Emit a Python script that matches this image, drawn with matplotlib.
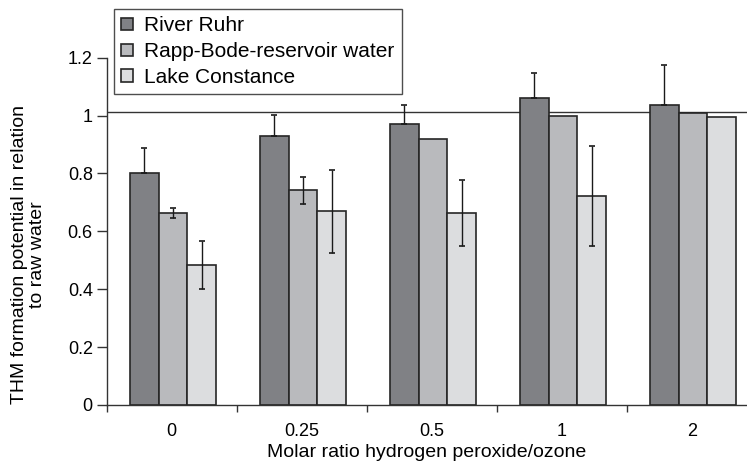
import numpy as np
import matplotlib.pyplot as plt

plt.rcParams['font.family'] = ['Liberation Sans', 'DejaVu Sans']

# data
ratios = ['0', '0.25', '0.5', '1', '2']
ruhr = [0.803, 0.928, 0.972, 1.062, 1.035]
ruhr_err = [0.085, 0.075, 0.065, 0.085, 0.14]
rapp = [0.664, 0.742, 0.92, 0.997, 1.008]
rapp_err = [0.017, 0.047, 0.0, 0.0, 0.0]
lake = [0.485, 0.669, 0.664, 0.722, 0.995]
lake_err = [0.083, 0.144, 0.115, 0.172, 0.0]
ref_line = 1.013

names = ['River Ruhr', 'Rapp-Bode-reservoir water', 'Lake Constance']
colors = ['#808185', '#b9babd', '#dcdddf']

fig = plt.figure(figsize=(7.47, 4.70), dpi=100)
ax = fig.add_axes([0.1428, 0.1383, 0.8572, 0.7389])

x = np.arange(len(ratios))
w = 0.22
series = [ruhr, rapp, lake]
errs = [
    [np.zeros(len(ruhr)), ruhr_err],   # only upper error shown for Ruhr
    [rapp_err, rapp_err],
    [lake_err, lake_err],
]
for i in range(3):
    pos = x + (i - 1) * w + 0.01
    ax.bar(pos, series[i], w, color=colors[i], edgecolor='#262626',
           linewidth=1.2, label=names[i], zorder=2)
    e = np.array(errs[i])
    mask = (e[0] > 0) | (e[1] > 0)
    ax.errorbar(pos[mask], np.array(series[i])[mask], yerr=e[:, mask],
                fmt='none', ecolor='#1a1a1a', elinewidth=1.0,
                capsize=2.5, capthick=1.2, zorder=3)

ax.axhline(ref_line, color='#333333', linewidth=1.0, zorder=1)

ax.set_xlim(-0.5, 4.425)
ax.set_ylim(0, 1.2)
ax.set_yticks([0, 0.2, 0.4, 0.6, 0.8, 1.0, 1.2])
ax.set_yticklabels(['0', '0.2', '0.4', '0.6', '0.8', '1', '1.2'])
ax.set_xticks(x)
ax.set_xticklabels(ratios)
ax.set_xticks(np.arange(len(ratios)) - 0.5, minor=True)
ax.tick_params(axis='x', which='major', length=0, pad=13, labelsize=13)
ax.tick_params(axis='x', which='minor', length=5, width=1.0, direction='out', color='#333333')
ax.tick_params(axis='y', length=7, width=1.0, direction='out', labelsize=13,
               pad=3, color='#333333')

for s in ['top', 'right']:
    ax.spines[s].set_visible(False)
for s in ['left', 'bottom']:
    ax.spines[s].set_linewidth(1.0)
    ax.spines[s].set_color('#333333')

ax.set_xlabel('Molar ratio hydrogen peroxide/ozone', fontsize=14, labelpad=3)
ax.set_ylabel('THM formation potential in relation\nto raw water', fontsize=14,
              linespacing=1.05)
ax.yaxis.set_label_coords(-0.095, 0.432)

leg = ax.legend(loc='upper left', bbox_to_anchor=(114 / 747, 1 - 9 / 470),
                bbox_transform=fig.transFigure, fontsize=15, frameon=True,
                fancybox=False, edgecolor='#222222', handlelength=0.55,
                handleheight=0.55, handletextpad=0.55, borderpad=0.35,
                labelspacing=0.33, borderaxespad=0)
leg.get_frame().set_linewidth(1.0)
leg.set_zorder(5)

fig.savefig('out.png', dpi=100)
